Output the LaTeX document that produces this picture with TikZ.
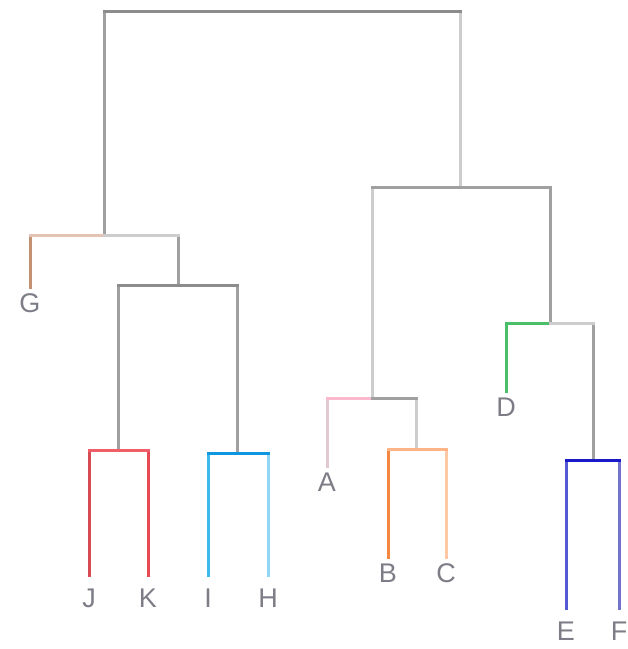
\documentclass[tikz,border=0pt]{standalone}
\usepackage{fontspec}
\setmainfont{Liberation Sans}
\usepackage{xcolor}

\definecolor{linedark}{RGB}{140,140,140}
\definecolor{linemid}{RGB}{160,160,160}
\definecolor{linelight}{RGB}{205,205,205}
\definecolor{labelgray}{RGB}{125,125,135}
\definecolor{jkred}{RGB}{240,95,105}
\definecolor{jred}{RGB}{215,75,85}
\definecolor{kred}{RGB}{230,75,85}
\definecolor{ihblue}{RGB}{15,150,225}
\definecolor{iblue}{RGB}{60,185,235}
\definecolor{hblue}{RGB}{145,215,245}
\definecolor{gtan}{RGB}{195,145,115}
\definecolor{gtanlight}{RGB}{228,195,180}
\definecolor{apink}{RGB}{250,185,205}
\definecolor{agray}{RGB}{225,200,210}
\definecolor{bcorange}{RGB}{255,180,135}
\definecolor{borange}{RGB}{245,135,65}
\definecolor{corange}{RGB}{255,200,165}
\definecolor{dgreen}{RGB}{75,190,105}
\definecolor{efblue}{RGB}{25,25,200}
\definecolor{eblue}{RGB}{85,90,210}
\definecolor{fblue}{RGB}{115,115,205}

\begin{document}
\begin{tikzpicture}[
                x=1pt, y=-1pt,
                link/.style={line width=3pt, line cap=rect},
                stem/.style={line width=3pt},
                leaf/.style={anchor=north, inner sep=0pt, outer sep=5pt, text=labelgray, font=\fontsize{27}{32}\selectfont},
                lowleaf/.style={leaf, outer sep=12pt}
            ]

\useasboundingbox (0,0) rectangle (628,649);

\coordinate (root) at (282,11);
            \coordinate (gjkih) at (104,235);
            \coordinate (jkih) at (178,285);
            \coordinate (jk) at (118,450);
            \coordinate (ih) at (237,453);
            \coordinate (abcdef) at (460,187);
            \coordinate (abc) at (372,398);
            \coordinate (bc) at (416,449);
            \coordinate (def) at (550,323);
            \coordinate (ef) at (593,460);

\node[leaf] (G) at (30,289) {G};
            \node[lowleaf] (J) at (89,577) {J};
            \node[lowleaf] (K) at (148,577) {K};
            \node[lowleaf] (I) at (208,577) {I};
            \node[lowleaf] (H) at (268,577) {H};
            \node[leaf] (A) at (327,468) {A};
            \node[leaf] (B) at (388,559) {B};
            \node[leaf] (C) at (446,559) {C};
            \node[leaf] (D) at (506,393) {D};
            \node[lowleaf] (E) at (566,610) {E};
            \node[lowleaf] (F) at (619,610) {F};

\draw[stem, linemid] (gjkih |- root) -- (gjkih);
            \draw[stem, linelight] (abcdef |- root) -- (abcdef);
            \draw[link, linedark] (gjkih |- root) -- (abcdef |- root);

\draw[stem, gtan] (G |- gjkih) -- (G);
            \draw[stem, linemid] (jkih |- gjkih) -- (jkih);
            \draw[link, gtanlight] (G |- gjkih) -- (gjkih);
            \draw[link, linelight] (gjkih) -- (jkih |- gjkih);

\draw[stem, linemid] (jk |- jkih) -- (jk);
            \draw[stem, linemid] (ih |- jkih) -- (ih);
            \draw[link, linedark] (jk |- jkih) -- (ih |- jkih);

\draw[stem, jred] (J |- jk) -- (J);
            \draw[stem, kred] (K |- jk) -- (K);
            \draw[link, jkred] (J |- jk) -- (K |- jk);

\draw[stem, iblue] (I |- ih) -- (I);
            \draw[stem, hblue] (H |- ih) -- (H);
            \draw[link, ihblue] (I |- ih) -- (H |- ih);

\draw[stem, linelight] (abc |- abcdef) -- (abc);
            \draw[stem, linemid] (def |- abcdef) -- (def);
            \draw[link, linemid] (abc |- abcdef) -- (def |- abcdef);

\draw[stem, agray] (A |- abc) -- (A);
            \draw[stem, linelight] (bc |- abc) -- (bc);
            \draw[link, apink] (A |- abc) -- (abc);
            \draw[link, linemid] (abc) -- (bc |- abc);

\draw[stem, borange] (B |- bc) -- (B);
            \draw[stem, corange] (C |- bc) -- (C);
            \draw[link, bcorange] (B |- bc) -- (C |- bc);

\draw[stem, dgreen] (D |- def) -- (D);
            \draw[stem, linemid] (ef |- def) -- (ef);
            \draw[link, dgreen] (D |- def) -- (def);
            \draw[link, linelight] (def) -- (ef |- def);

\draw[stem, eblue] (E |- ef) -- (E);
            \draw[stem, fblue] (F |- ef) -- (F);
            \draw[link, efblue] (E |- ef) -- (F |- ef);

            \end{tikzpicture}
\end{document}
